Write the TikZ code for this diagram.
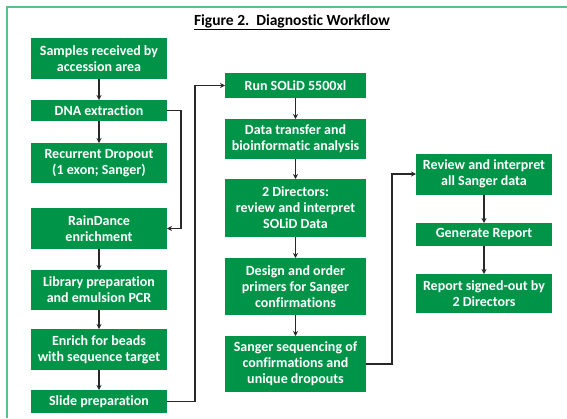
\documentclass[tikz,border=0pt]{standalone}
\usepackage{fontspec}
\setmainfont{Carlito}[Ligatures=NoCommon]
\usetikzlibrary{arrows.meta}
\definecolor{boxgreen}{RGB}{0,148,72}
\definecolor{framegreen}{RGB}{90,192,135}
\definecolor{arrowgray}{RGB}{40,40,40}
\begin{document}
\begin{tikzpicture}[x=1pt,y=-1pt,
  stepbox/.style={fill=boxgreen, text=white, font=\fontsize{14}{16}\selectfont\bfseries, align=center, inner sep=0pt, outer sep=0pt},
  lbox/.style={stepbox, minimum width=136pt},
  mbox/.style={stepbox, minimum width=141pt},
  rbox/.style={stepbox, minimum width=136pt},
  conn/.style={draw=arrowgray, line width=1.2pt, -{Stealth[length=5pt,width=5pt]}}
]
\useasboundingbox (0,0) rectangle (567,418);
\fill[white] (0,0) rectangle (567,418);
\draw[framegreen, line width=2pt] (6.5,418) -- (6.5,7) -- (567,7);
\node[font=\fontsize{15.5}{18}\selectfont\bfseries] (title) at (292,22) {\underline{Figure 2.\ \ Diagnostic Workflow}};

% left column
\node[lbox, minimum height=41pt] (samples) at (99,58.5) {Samples received by\\accession area};
\node[lbox, minimum height=21pt] (dna) at (99,110.5) {DNA extraction};
\node[lbox, minimum height=40pt] (recurrent) at (99,163) {Recurrent Dropout\\(1 exon; Sanger)};
\node[lbox, minimum height=41pt] (rain) at (99,228.5) {RainDance\\enrichment};
\node[lbox, minimum height=40pt] (library) at (99,290) {Library preparation\\and emulsion PCR};
\node[lbox, minimum height=41pt] (enrich) at (99,349.5) {Enrich for beads\\with sequence target};
\node[lbox, minimum height=23pt] (slide) at (99,401.5) {Slide preparation};

% middle column
\node[mbox, minimum height=25pt] (run) at (295.5,85.5) {Run SOLiD 5500xl};
\node[mbox, minimum height=40pt] (data) at (295.5,139) {Data transfer and\\bioinformatic analysis};
\node[mbox, minimum height=58pt] (directors) at (295.5,208) {2 Directors:\\review and interpret\\SOLiD Data};
\node[mbox, minimum height=57pt] (design) at (295.5,286.5) {Design and order\\primers for Sanger\\confirmations};
\node[mbox, minimum height=56pt] (sanger) at (295.5,364) {Sanger sequencing of\\confirmations and\\unique dropouts};

% right column
\node[rbox, minimum height=41pt] (review) at (484,174) {Review and interpret\\all Sanger data};
\node[rbox, minimum height=23pt] (generate) at (484,234.5) {Generate Report};
\node[rbox, minimum height=39pt] (report) at (484,293.5) {Report signed-out by\\2 Directors};

% vertical arrows
\draw[conn] (samples) -- (dna);
\draw[conn] (dna) -- (recurrent);
\draw[conn] (rain) -- (library);
\draw[conn] (library) -- (enrich);
\draw[conn] (enrich) -- (slide);
\draw[conn] (run) -- (data);
\draw[conn] (data) -- (directors);
\draw[conn] (directors) -- (design);
\draw[conn] (design) -- (sanger);
\draw[conn] (review) -- (generate);
\draw[conn] (generate) -- (report);

% elbow connectors
\coordinate (j1) at (181,110.5);
\coordinate (j2) at (195,401.5);
\coordinate (j3) at (392,364);
\draw[conn] (dna.east) -- (j1) |- (rain.east);
\draw[conn] (slide.east) -- (j2) |- (run.west);
\draw[conn] (sanger.east) -- (j3) |- (review.west);
\end{tikzpicture}
\end{document}
